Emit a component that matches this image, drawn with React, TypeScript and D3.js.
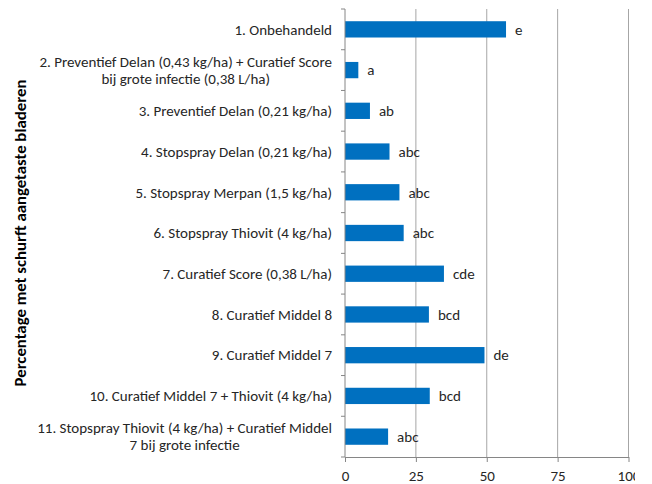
import React, { useEffect, useRef } from 'react';
import * as d3 from 'd3';

const categories = [
  ['1. Onbehandeld'],
  ['2. Preventief Delan (0,43 kg/ha) + Curatief Score', 'bij grote infectie (0,38 L/ha)'],
  ['3. Preventief Delan (0,21 kg/ha)'],
  ['4. Stopspray Delan (0,21 kg/ha)'],
  ['5. Stopspray Merpan (1,5 kg/ha)'],
  ['6. Stopspray Thiovit (4 kg/ha)'],
  ['7. Curatief Score (0,38 L/ha)'],
  ['8. Curatief Middel 8'],
  ['9. Curatief Middel 7'],
  ['10. Curatief Middel 7 + Thiovit (4 kg/ha)'],
  ['11. Stopspray Thiovit (4 kg/ha) + Curatief Middel', '7 bij grote infectie'],
];
const values = [56.8, 4.7, 8.8, 15.7, 19.2, 20.7, 34.9, 29.6, 49.2, 29.9, 15.2];
const letters = ['e', 'a', 'ab', 'abc', 'abc', 'abc', 'cde', 'bcd', 'de', 'bcd', 'abc'];
const xTicks = [0, 25, 50, 75, 100];
const yTitle = 'Percentage met schurft aangetaste bladeren';

const W = 635;
const H = 484;
const margin = { top: 9, right: 7, bottom: 27, left: 345 };
const FONT = "Carlito, Calibri, 'Open Sans', sans-serif";

export default function App() {
  const svgRef = useRef<SVGSVGElement>(null);

  useEffect(() => {
    const svg = d3.select(svgRef.current);
    svg.selectAll('*').remove();

    const height = H - margin.top - margin.bottom;

    const x = d3.scaleLinear().domain([0, 100]).range([0, 283.5]);
    const y = d3.scaleBand<number>().domain(d3.range(categories.length)).range([0, height]).paddingInner(0.6).paddingOuter(0.3);
    const band = height / categories.length;

    const chart = svg.append('g').attr('transform', `translate(${margin.left},${margin.top})`);

    // grid lines
    chart.append('g')
      .selectAll('line')
      .data(xTicks.slice(1))
      .join('line')
      .attr('x1', d => x(d)).attr('x2', d => x(d))
      .attr('y1', 0).attr('y2', height)
      .attr('stroke', '#a6a6a6').attr('stroke-width', 1);

    // bars
    chart.append('g')
      .selectAll('rect')
      .data(values)
      .join('rect')
      .attr('x', 0)
      .attr('y', (d, i) => y(i)!)
      .attr('width', d => x(d))
      .attr('height', y.bandwidth())
      .attr('fill', '#0070c0');

    // letters
    chart.append('g')
      .selectAll('text')
      .data(values)
      .join('text')
      .attr('x', d => x(d) + 9)
      .attr('y', (d, i) => y(i)! + y.bandwidth() / 2)
      .attr('dy', '0.35em')
      .attr('font-family', FONT)
      .attr('font-size', 15)
      .attr('fill', '#262626')
      .text((d, i) => letters[i]);

    // x axis
    const xAxis = chart.append('g')
      .attr('transform', `translate(0,${height})`)
      .call(d3.axisBottom(x).tickValues(xTicks).tickSize(5).tickSizeOuter(0).tickFormat(d3.format('d')));
    xAxis.select('.domain').attr('stroke', '#868686');
    xAxis.selectAll('line').attr('stroke', '#868686');
    xAxis.selectAll('text')
      .attr('font-family', FONT).attr('font-size', 15).attr('fill', '#262626')
      .attr('y', 19).attr('dy', '0.35em');

    // y axis line and ticks at band boundaries
    chart.append('line')
      .attr('x1', 0).attr('x2', 0).attr('y1', 0).attr('y2', height)
      .attr('stroke', '#868686');
    chart.append('g')
      .selectAll('line')
      .data(d3.range(categories.length + 1))
      .join('line')
      .attr('x1', -4).attr('x2', 0)
      .attr('y1', d => d * band).attr('y2', d => d * band)
      .attr('stroke', '#868686');

    // category labels
    const labels = chart.append('g');
    categories.forEach((lines, i) => {
      const g = labels.append('g');
      const cy = (i + 0.5) * band;
      const texts = lines.map((l, j) =>
        g.append('text')
          .attr('y', cy + (j - (lines.length - 1) / 2) * 17)
          .attr('dy', '0.35em')
          .attr('font-family', FONT)
          .attr('font-size', 15)
          .attr('fill', '#262626')
          .attr('text-anchor', 'middle')
          .text(l)
      );
      const maxW = d3.max(texts, t => (t.node() as SVGTextElement).getComputedTextLength()) || 0;
      texts.forEach(t => t.attr('x', -13 - maxW / 2));
    });

    // y title
    svg.append('text')
      .attr('transform', `translate(20,233) rotate(-90)`)
      .attr('text-anchor', 'middle')
      .attr('dy', '0.35em')
      .attr('font-family', FONT)
      .attr('font-size', 16.8)
      .attr('font-weight', 'bold')
      .attr('fill', '#000')
      .text(yTitle);
  }, []);

  return (
    <svg ref={svgRef} width={W} height={H} style={{ position: 'absolute', left: 0, top: 0 }} />
  );
}
